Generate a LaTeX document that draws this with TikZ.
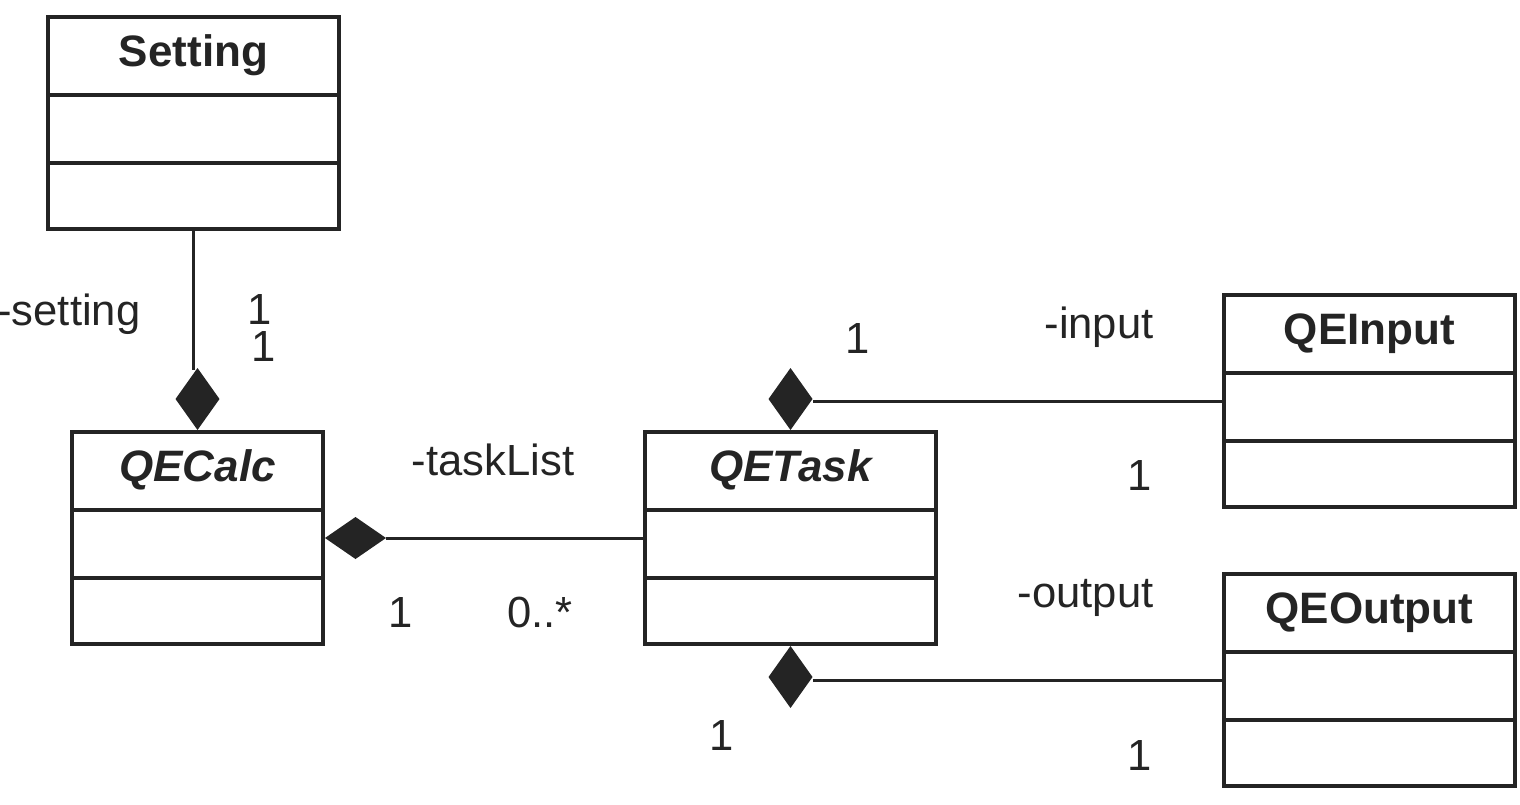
\documentclass[tikz,border=0pt]{standalone}
\usepackage{fontspec}
\setmainfont{Liberation Sans}
\usetikzlibrary{shapes.geometric}
\definecolor{ink}{gray}{0.14}
\newcommand\umlclass[5]{% #1 name, #2 position (outer NW), #3 path width, #4 title style, #5 title
  \node[umlbox, minimum width=#3, minimum height=106pt] (#1) at #2 {};
  \draw[divider] ([yshift=-40pt]#1.north west) -- ([yshift=-40pt]#1.north east);
  \draw[divider] ([yshift=-74pt]#1.north west) -- ([yshift=-74pt]#1.north east);
  \node[#4] (#1-title) at ([yshift=-25.5pt]#1.north) {#5};
}
\begin{document}
\begin{tikzpicture}[x=0.5pt,y=-0.5pt,
  every node/.style={font=\fontsize{21.8}{25}\selectfont, text=ink, inner sep=0pt},
  umlbox/.style={draw=ink, line width=2pt, rectangle, anchor=north west},
  divider/.style={draw=ink, line width=1.8pt},
  conn/.style={draw=ink, line width=1.5pt},
  classtitle/.style={font=\fontsize{22}{26}\selectfont\bfseries, anchor=base},
  abstracttitle/.style={font=\fontsize{22}{26}\selectfont\bfseries\itshape, anchor=base},
  lbl/.style={anchor=base},
  vdiamond/.style={diamond, fill=ink, draw=none, minimum width=22pt, minimum height=31pt, inner sep=0pt, outer sep=0pt},
  hdiamond/.style={diamond, fill=ink, draw=none, minimum width=30.5pt, minimum height=21pt, inner sep=0pt, outer sep=0pt}
]
\useasboundingbox (0,0) rectangle (1520,804);

\umlclass{Setting}{(46,15)}{145.5pt}{classtitle}{Setting}
\umlclass{QECalc}{(70,430)}{125.5pt}{abstracttitle}{QECalc}
\umlclass{QETask}{(643,430)}{145.5pt}{abstracttitle}{QETask}
\umlclass{QEInput}{(1222,293)}{145.5pt}{classtitle}{QEInput}
\umlclass{QEOutput}{(1222,572)}{145.5pt}{classtitle}{QEOutput}

% composition diamonds
\node[vdiamond, anchor=south] (dSet) at (QECalc.north) {};
\node[hdiamond, anchor=west] (dCalc) at (QECalc.east) {};
\node[vdiamond, anchor=south] (dIn) at (QETask.north) {};
\node[vdiamond, anchor=north] (dOut) at (QETask.south) {};

% connectors
\draw[conn] (Setting.south) -- ([yshift=-1pt]Setting.south |- dSet.north);
\draw[conn] (dCalc.east) -- (QETask.west);
\draw[conn] (QEInput.west) -- (QEInput.west -| dIn.east);
\draw[conn] (QEOutput.west) -- (QEOutput.west -| dOut.east);

% labels
\node[anchor=base west] (lSetting) at (-3,325) {-setting};
\node[lbl] (mSet1) at (260,324) {1};
\node[lbl] (mSet2) at (264,361) {1};
\node[lbl] (lTask) at (493,475) {-taskList};
\node[lbl] (mCalc) at (401,627) {1};
\node[lbl] (mTask) at (540,627) {0..*};
\node[lbl] (mIn1) at (858,353) {1};
\node[lbl] (lInput) at (1099,338) {-input};
\node[lbl] (mIn2) at (1140,490) {1};
\node[lbl] (lOutput) at (1085.5,607) {-output};
\node[lbl] (mOut1) at (722,750) {1};
\node[lbl] (mOut2) at (1140,770) {1};
\end{tikzpicture}
\end{document}
